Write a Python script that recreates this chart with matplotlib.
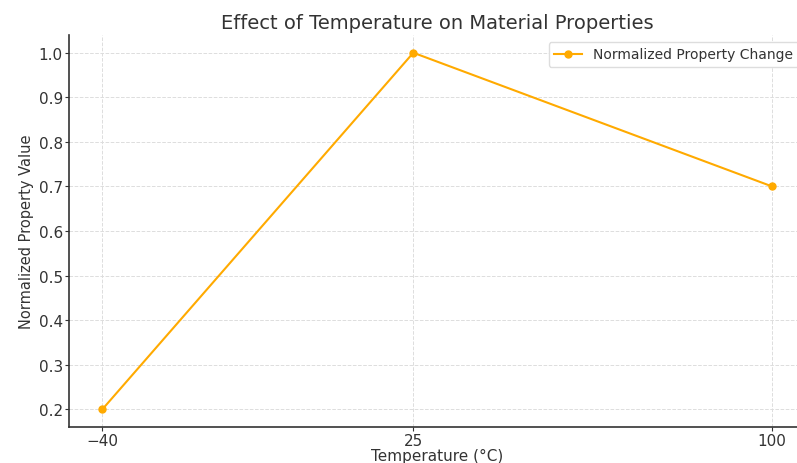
import matplotlib
matplotlib.use("Agg")
import matplotlib.pyplot as plt

temperatures = [-40, 25, 100]
property_values = [0.2, 1.0, 0.7]
series_label = "Normalized Property Change"

text_color = "#333333"
plt.rcParams['text.color'] = text_color
plt.rcParams['axes.labelcolor'] = text_color
plt.rcParams['xtick.color'] = text_color
plt.rcParams['ytick.color'] = text_color

fig = plt.figure(figsize=(7.97, 4.64), dpi=100)
ax = fig.add_axes([0.0866, 0.0776, 0.924, 0.845])

ax.plot(temperatures, property_values, color="#FFAA00", marker="o",
        markersize=5, linewidth=1.5, label=series_label)

ax.set_xticks(temperatures)
ax.set_ylim(0.16, 1.04)
ax.set_xlim(-47, 107)

ax.set_title("Effect of Temperature on Material Properties", fontsize=14, pad=5)
ax.set_xlabel("Temperature (°C)", fontsize=11, labelpad=0)
ax.set_ylabel("Normalized Property Value", fontsize=10.5, labelpad=3)
ax.tick_params(labelsize=11, length=3, width=0.8, pad=1.5)

ax.grid(True, linestyle="--", color="#dddddd", linewidth=0.7)
ax.spines['top'].set_visible(False)
ax.spines['right'].set_visible(False)
for side in ['left', 'bottom']:
    ax.spines[side].set_color("#333333")
    ax.spines[side].set_linewidth(1.2)

ax.legend(loc="upper right", fontsize=10, bbox_to_anchor=(1.0, 1.0),
          borderaxespad=0.5, framealpha=1.0, edgecolor="#dddddd")

fig.savefig("out.png", dpi=100)
